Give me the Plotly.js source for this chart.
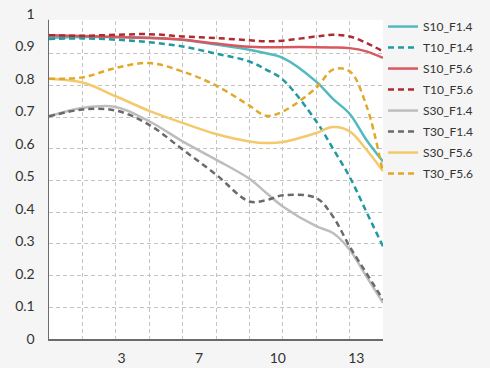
<!DOCTYPE html>
<html>
<head>
<meta charset="utf-8">
<script src="https://cdn.plot.ly/plotly-3.0.1.min.js"></script>
<style>html,body{margin:0;padding:0;background:#f5f5f5;}#chart{width:490px;height:368px;}</style>
</head>
<body>
<div id="chart"></div>
<script>
// sample positions along the image-height axis (in grid steps)
const xSteps = [0, 1, 2, 3, 4, 5, 6, 6.5, 7, 8, 8.5, 9, 9.5, 10];
// x tick labels and where they sit on the same axis
const xTickPos = [2.17, 4.49, 6.85, 9.2];
const xTickLabels = ['3', '7', '10', '13'];
const yTickVals = [0, 0.1, 0.2, 0.3, 0.4, 0.5, 0.6, 0.7, 0.8, 0.9, 1];
const yTickLabels = ['0', '0.1', '0.2', '0.3', '0.4', '0.5', '0.6', '0.7', '0.8', '0.9', '1'];

const seriesNames = ['S10_F1.4', 'T10_F1.4', 'S10_F5.6', 'T10_F5.6', 'S30_F1.4', 'T30_F1.4', 'S30_F5.6', 'T30_F5.6'];
const S10_F14 = [0.927, 0.929, 0.929, 0.927, 0.921, 0.906, 0.890, 0.879, 0.865, 0.792, 0.739, 0.693, 0.613, 0.546];
const T10_F14 = [0.923, 0.925, 0.921, 0.913, 0.900, 0.878, 0.854, 0.829, 0.798, 0.670, 0.586, 0.499, 0.392, 0.285];
const S10_F56 = [0.935, 0.932, 0.929, 0.926, 0.921, 0.909, 0.899, 0.898, 0.898, 0.898, 0.897, 0.895, 0.885, 0.865];
const T10_F56 = [0.935, 0.933, 0.936, 0.938, 0.931, 0.926, 0.919, 0.916, 0.918, 0.931, 0.936, 0.931, 0.911, 0.885];
const S30_F14 = [0.685, 0.711, 0.714, 0.670, 0.608, 0.552, 0.493, 0.450, 0.408, 0.347, 0.326, 0.275, 0.193, 0.111];
const T30_F14 = [0.685, 0.706, 0.703, 0.659, 0.583, 0.506, 0.423, 0.427, 0.442, 0.434, 0.377, 0.285, 0.203, 0.121];
const S30_F56 = [0.801, 0.789, 0.747, 0.702, 0.665, 0.631, 0.608, 0.603, 0.606, 0.634, 0.652, 0.639, 0.583, 0.516];
const T30_F56 = [0.801, 0.805, 0.834, 0.849, 0.823, 0.780, 0.718, 0.687, 0.700, 0.773, 0.829, 0.824, 0.719, 0.512];

const seriesValues = [S10_F14, T10_F14, S10_F56, T10_F56, S30_F14, T30_F14, S30_F56, T30_F56];
const seriesColors = ['#52b9bf', '#1e9aa1', '#d9575e', '#b02a33', '#bdbdbd', '#6a6a6a', '#f4c96c', '#e2a82a'];
const seriesDash = ['solid', '6px,4px', 'solid', '6px,4px', 'solid', '6px,4px', 'solid', '6px,4px'];

const FONT = 'Lato, "Open Sans", sans-serif';

const traces = seriesNames.map((name, i) => ({
  type: 'scatter', mode: 'lines', name: name,
  x: xSteps, y: seriesValues[i],
  line: {color: seriesColors[i], width: 2.5, dash: seriesDash[i], shape: 'spline', smoothing: 1},
  legendgroup: 'g' + i,
  xaxis: 'x', yaxis: 'y'
}));
// empty helper trace carrying the dashed grid axes
traces.push({type: 'scatter', mode: 'lines', x: [], y: [], xaxis: 'x2', yaxis: 'y2', showlegend: false, hoverinfo: 'skip'});

const layout = {
  width: 490, height: 368,
  margin: {l: 49, r: 107, t: 14, b: 29, pad: 0, autoexpand: false},
  paper_bgcolor: '#f5f5f5', plot_bgcolor: '#ffffff',
  font: {family: FONT, size: 14, color: '#333333'},
  showlegend: true,
  legend: {
    x: 1.0, xanchor: 'left', y: 1.006, yanchor: 'top',
    bgcolor: 'rgba(0,0,0,0)', borderwidth: 0,
    font: {family: FONT, size: 12, color: '#333333'},
    traceorder: 'grouped', tracegroupgap: 2, itemwidth: 30
  },
  xaxis: {
    range: [0, 10], showgrid: false, zeroline: false,
    showline: true, linecolor: '#6b6b6b', linewidth: 1.5,
    tickmode: 'array', tickvals: xTickPos, ticktext: xTickLabels,
    ticks: '', ticklabelstandoff: 6,
    tickfont: {family: FONT, size: 14, color: '#333333'}
  },
  yaxis: {
    range: [0, 1], showgrid: false, zeroline: false,
    showline: true, linecolor: '#6b6b6b', linewidth: 1.5,
    tickmode: 'array', tickvals: yTickVals, ticktext: yTickLabels,
    ticks: '', ticklabelstandoff: 10,
    tickfont: {family: FONT, size: 14, color: '#333333'}
  },
  xaxis2: {
    overlaying: 'x', range: [0, 10], showticklabels: false, ticks: '',
    showgrid: true, gridcolor: '#c4c4c4', gridwidth: 1, griddash: '4px,3px',
    tickmode: 'array', tickvals: [1, 2, 3, 4, 5, 6, 7, 8, 9], zeroline: false, showline: false
  },
  yaxis2: {
    overlaying: 'y', range: [0, 1.0262], showticklabels: false, ticks: '',
    showgrid: true, gridcolor: '#c4c4c4', gridwidth: 1, griddash: '4px,3px',
    tickmode: 'array', tickvals: [0.1, 0.2, 0.3, 0.4, 0.5, 0.6, 0.7, 0.8, 0.9], zeroline: false, showline: false
  },
  shapes: [{
    type: 'rect', xref: 'paper', yref: 'paper', x0: -0.015, x1: 1.0, y0: 0.982, y1: 1.002,
    fillcolor: '#f5f5f5', line: {width: 0}, layer: 'above'
  }]
};

Plotly.newPlot('chart', traces, layout, {displayModeBar: false, staticPlot: true});
</script>
</body>
</html>
